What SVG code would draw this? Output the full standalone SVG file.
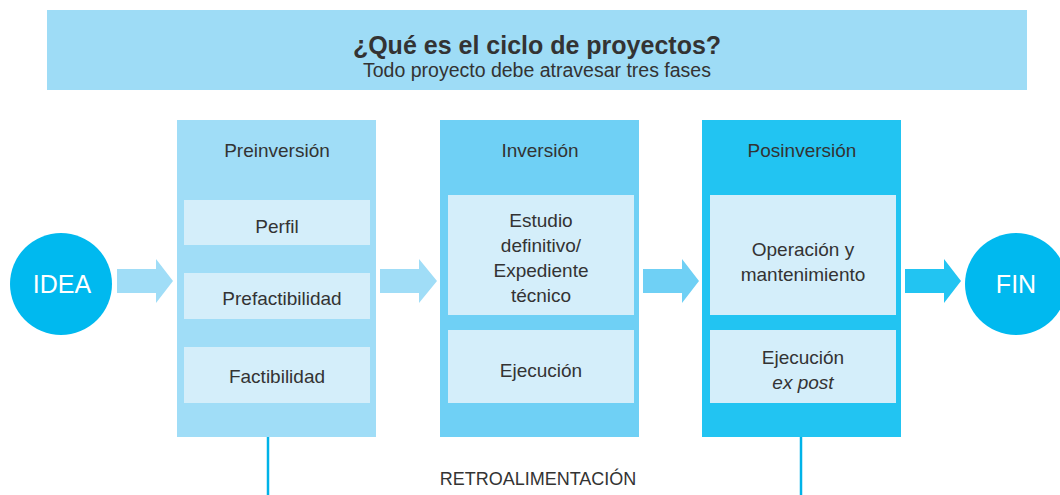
<svg xmlns="http://www.w3.org/2000/svg" width="1060" height="495" viewBox="0 0 1060 495">
<style>
text{font-family:"Liberation Sans","Open Sans",sans-serif;fill:#333;text-anchor:middle}
.h{font-size:19px}
.b{font-size:19px}
.inner{fill:#d4eefa}
.c{fill:#00b9ef}
.ct{fill:#fff;font-size:25px}
.fb{stroke:#00b3e8;stroke-width:2.5;fill:none}
</style>
<rect width="1060" height="495" fill="#fff"/>
<g id="header">
<rect x="47" y="10" width="980" height="80" fill="#9edcf6"/>
<text x="537" y="54" font-size="25" font-weight="bold" fill="#222">¿Qué es el ciclo de proyectos?</text>
<text x="537" y="77" font-size="19.5">Todo proyecto debe atravesar tres fases</text>
</g>
<g id="connectors">
<path d="M117 269H156V259L173 281L156 303V293H117Z" fill="#a0ddf7"/>
<path d="M380 269H419V259L437 281L419 303V293H380Z" fill="#a0ddf7"/>
<path d="M643 269H682V259L699 281L682 303V293H643Z" fill="#6fd0f5"/>
<path d="M905 269H944V259L961 281L944 303V293H905Z" fill="#22c4f2"/>
<line class="fb" x1="268" y1="437" x2="268" y2="495"/>
<line class="fb" x1="801" y1="437" x2="801" y2="495"/>
<text x="538" y="485" font-size="18">RETROALIMENTACIÓN</text>
</g>
<g id="idea">
<circle class="c" cx="61" cy="284" r="51"/>
<text class="ct" x="62" y="293">IDEA</text>
</g>
<g id="preinversion">
<rect x="177" y="120" width="199" height="317" fill="#a0ddf7"/>
<text class="h" x="277" y="157">Preinversión</text>
<rect class="inner" x="184" y="200" width="186" height="45"/>
<text class="b" x="277" y="233">Perfil</text>
<rect class="inner" x="184" y="273" width="186" height="46"/>
<text class="b" x="282" y="305">Prefactibilidad</text>
<rect class="inner" x="184" y="347" width="186" height="56"/>
<text class="b" x="277" y="383">Factibilidad</text>
</g>
<g id="inversion">
<rect x="440" y="120" width="199" height="317" fill="#6fd0f5"/>
<text class="h" x="540" y="157">Inversión</text>
<rect class="inner" x="448" y="195" width="186" height="120"/>
<text class="b" x="541" y="227">Estudio</text>
<text class="b" x="541" y="252">definitivo/</text>
<text class="b" x="541" y="277">Expediente</text>
<text class="b" x="541" y="302">técnico</text>
<rect class="inner" x="448" y="330" width="186" height="73"/>
<text class="b" x="541" y="377">Ejecución</text>
</g>
<g id="posinversion">
<rect x="702" y="120" width="199" height="317" fill="#22c4f2"/>
<text class="h" x="802" y="157">Posinversión</text>
<rect class="inner" x="710" y="195" width="186" height="120"/>
<text class="b" x="803" y="256">Operación y</text>
<text class="b" x="803" y="281">mantenimiento</text>
<rect class="inner" x="710" y="330" width="186" height="73"/>
<text class="b" x="803" y="364">Ejecución</text>
<text class="b" x="803" y="389" font-style="italic">ex post</text>
</g>
<g id="fin">
<circle class="c" cx="1016" cy="284" r="51"/>
<text class="ct" x="1016" y="293">FIN</text>
</g>
</svg>
